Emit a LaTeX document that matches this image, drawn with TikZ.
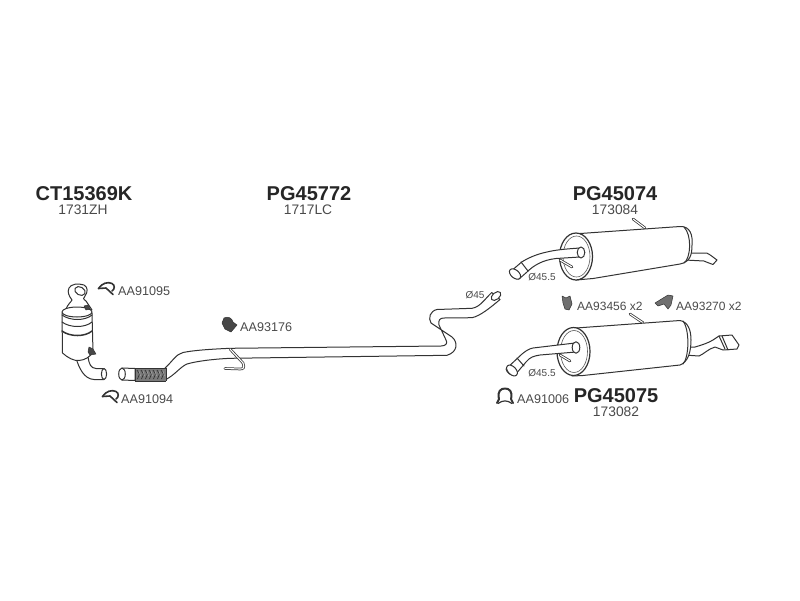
\documentclass[tikz,border=0pt]{standalone}
\usepackage{fontspec}
\setmainfont{Liberation Sans}
\definecolor{ink}{HTML}{333333}
\definecolor{txt}{HTML}{4A4A4A}
\tikzset{
 part/.style={draw=ink,line width=1pt,fill=white,line join=round,line cap=round},
 thin part/.style={draw=ink!80,line width=0.6pt,line cap=round},
 title/.style={font=\fontsize{20}{20}\selectfont\bfseries,text=black!85,inner sep=0pt},
 code/.style={font=\fontsize{13.8}{14}\selectfont,text=txt,inner sep=0pt},
 ref/.style={font=\fontsize{12.6}{13}\selectfont,text=txt,inner sep=0pt,anchor=west},
 dia/.style={font=\fontsize{10}{10}\selectfont,text=txt,inner sep=0pt},
 blob/.style={fill=ink!90,draw=ink,line width=0.5pt,line join=round},
 clampline/.style={draw=ink,line width=1.6pt,line cap=round,line join=round},
 tag/.style={draw=ink,line width=2.6pt,line cap=round},
 tagin/.style={draw=white,line width=1.1pt,line cap=round},
}
\begin{document}
\begin{tikzpicture}[x=1pt,y=-1pt]
\useasboundingbox (0,0) rectangle (800,600);
\fill[white] (0,0) rectangle (800,600);
% ---- texts
\node[title] (t1) at (84,193.5) {CT15369K};
\node[code] (c1) at (83,210) {1731ZH};
\node[title] (t2) at (309,193.5) {PG45772};
\node[code] (c2) at (308,210) {1717LC};
\node[title] (t3) at (615,193.5) {PG45074};
\node[code] (c3) at (615,210) {173084};
\node[title] (t4) at (616,396) {PG45075};
\node[code] (c4) at (616,412) {173082};
\node[ref] (r1) at (118,291) {AA91095};
\node[ref] (r2) at (121,399) {AA91094};
\node[ref] (r3) at (240,327) {AA93176};
\node[ref] (r4) at (517,399) {AA91006};
\node[ref,font=\fontsize{12}{13}\selectfont] (r5) at (577,306) {AA93456 x2};
\node[ref,font=\fontsize{12}{13}\selectfont] (r6) at (676,306) {AA93270 x2};
\node[dia] (d1) at (542,277) {Ø45.5};
\node[dia] (d2) at (542,372.7) {Ø45.5};
\node[dia] (d3) at (475,295) {Ø45};
% ---- catalyst
\draw[part] (76,358) .. controls (79,368) and (84,379) .. (94,379.5) -- (104,379.5) -- (104,368.5) -- (96,368.5) .. controls (91,368) and (89,365) .. (88,356) -- cycle;
\draw[part] (104,374) ellipse [x radius=2.6pt,y radius=5.5pt];
\draw[part] (66,309) .. controls (68,304) and (71,302) .. (72,300) .. controls (69,296) and (67,292) .. (69,288) .. controls (71,284) and (78,283) .. (84,285) .. controls (88,287) and (88,292) .. (85,296) .. controls (83,298) and (83,299) .. (86,301) -- (92,310) -- cycle;
\draw[part] (80,291) ellipse [x radius=5.5pt,y radius=4pt,rotate=-30];
\draw[part] (62,313) -- (62.5,353) .. controls (68,358) and (74,361) .. (79,360.5) .. controls (85,360) and (90,357) .. (93,352) -- (92,313) -- cycle;
\draw[part] (77,312) ellipse [x radius=15pt,y radius=5pt];
\draw[part,fill=none] (62,315) .. controls (70,321) and (85,321) .. (92,315);
\draw[part,fill=none] (62,322) .. controls (70,328) and (85,328) .. (92,322);
\draw[part,fill=none,line width=1.5pt] (62,331) .. controls (70,337) and (85,337) .. (92,331);
\draw[blob] (84,306) -- (88,305) -- (90,309) -- (86,310) -- cycle;
\draw[blob] (89,347) -- (93,349) -- (96,354) -- (90,355) -- (88,352) -- cycle;
% ---- intermediate pipe
\draw[part] (122,368) -- (135,368.5) -- (135,380.5) -- (122,380) -- cycle;
\draw[part] (122,374) ellipse [x radius=3.3pt,y radius=6pt];
\draw[part] (165,368) .. controls (172,362) and (176,354) .. (183,352.5) .. controls (195,350) and (215,349) .. (230,348.3)
 -- (441,346) .. controls (446,346) and (448,343) .. (446,340) -- (439,325) .. controls (438,320) and (440,318) .. (444,318)
 -- (472,317.7) .. controls (480,316) and (490,308) .. (500,299.5) -- (491.7,292.5) .. controls (484,300) and (480,307) .. (472,308.3)
 -- (437,309.5) .. controls (430,311) and (428,318) .. (431,323) -- (452,337) .. controls (458,342) and (458,352) .. (447,355.3)
 -- (230,358.3) .. controls (215,359) and (197,361) .. (187,364) .. controls (180,367) and (175,375) .. (165,380) -- cycle;
\draw[part] (496,296) ellipse [x radius=5.6pt,y radius=3.4pt,rotate=40];
\fill[ink!65] (135,368) rectangle (166,381);
\draw[ink,line width=1pt] (135,368) -- (166,368) (135,381) -- (166,381);
\draw[ink,line width=0.9pt] (135,368) -- (135,381) (166,368) -- (166,381);
\foreach \xx in {137,141,...,163}{
 \draw[ink,line width=0.7pt] (\xx,370) -- (\xx+2.5,374) -- (\xx+0.5,379);
 \draw[white!60!ink,line width=0.5pt] (\xx+2,371) -- (\xx+3.5,376);
}
\draw[tag] (230,349) -- (243,363) .. controls (245,368) and (243,369) .. (240,369) -- (225,368.5);
\draw[tagin] (230,349) -- (243,363) .. controls (245,368) and (243,369) .. (240,369) -- (225,368.5);
% ---- upper silencer
\draw[part] (685,253) -- (706.7,253) .. controls (711,255) and (714,258) .. (717,260) -- (713,264.5) .. controls (709,263) and (706,262) .. (704,261) -- (685,260) -- cycle;
\draw[tag] (633,219) -- (645,228);
\draw[tagin] (633,219) -- (645,228);
\draw[part] (573,234) -- (680,226.5) .. controls (690,226) and (693,235) .. (692,245) .. controls (692,255) and (690,262) .. (680,264) -- (593,278.5) -- (576,280) -- cycle;
\draw[part,fill=none] (684,227) .. controls (692,235) and (691,258) .. (684,263);
\draw[part,line width=1.2pt] (576,256.5) ellipse [x radius=16.5pt,y radius=23.5pt];
\draw[thin part] (576.5,256.5) ellipse [x radius=13.5pt,y radius=20.5pt];
\draw[tag] (560,260) -- (572,267);
\draw[tagin] (560,260) -- (572,267);
\draw[part] (580,248) .. controls (565,249) and (555,250) .. (547,252) .. controls (537,254) and (528,258) .. (521.7,262)
 -- (510,272) .. controls (511,276) and (515,279) .. (519,279) -- (527,272) .. controls (534,265) and (543,260) .. (556,258.5) -- (580,257) -- cycle;
\draw[part] (581,252.5) ellipse [x radius=3.8pt,y radius=5.5pt];
\draw[part,fill=none] (521,262) -- (528,271);
\draw[part] (515,274) ellipse [x radius=6.5pt,y radius=4pt,rotate=-40];
% ---- lower silencer
\draw[part] (684,347) -- (695,347) .. controls (702,345) and (708,343) .. (713,340) -- (719,336) -- (732,335) -- (739,345) -- (737,349) -- (723,350) -- (715,347) .. controls (708,349) and (704,354) .. (699,356) -- (684,355) -- cycle;
\draw[part,fill=none] (719,336) -- (725,349);
\draw[part,fill=none] (722,336) -- (728,350);
\draw[tag] (630,314) -- (643,322.7);
\draw[tagin] (630,314) -- (643,322.7);
\draw[part] (576,328) -- (680,320.5) .. controls (688,322) and (691,330) .. (691,340) .. controls (691,352) and (688,362) .. (680,365) -- (583,375.5) -- (572,376) -- cycle;
\draw[part,fill=none] (683,321) .. controls (690,330) and (689,358) .. (683,364);
\draw[part,line width=1.2pt] (573.5,351.5) ellipse [x radius=16.5pt,y radius=24pt];
\draw[thin part] (574,351.5) ellipse [x radius=13.5pt,y radius=21pt];
\draw[tag] (560,355) -- (570,361);
\draw[tagin] (560,355) -- (570,361);
\draw[part] (575,343) -- (533,348) .. controls (528,349) and (526,351) .. (522,354) -- (506,369) .. controls (507,373) and (511,376) .. (515,375) -- (526,362) .. controls (530,357) and (534,356) .. (540,355) -- (576,352) -- cycle;
\draw[part] (576,347.5) ellipse [x radius=3.8pt,y radius=5.8pt];
\draw[part,fill=none] (517,358) -- (524,366);
\draw[part] (512,370.5) ellipse [x radius=6.5pt,y radius=4pt,rotate=-45];
% ---- clamps
\draw[clampline] (98.5,288.5) .. controls (102,283) and (108,281.5) .. (112,283.5) .. controls (115,285) and (115,289) .. (112,291);
\draw[clampline] (98.5,288.5) -- (106,288) -- (113,294.5);
\draw[clampline] (102.5,396.5) .. controls (106,391) and (112,389.5) .. (116,391.5) .. controls (119,393) and (119,397) .. (116,399);
\draw[clampline] (102.5,396.5) -- (110,396) -- (117,402.5);
\draw[blob] (222,323) -- (224,318) .. controls (228,316) and (232,318) .. (233,322) -- (237,325) -- (231,332) -- (225,329) -- cycle;
\draw[clampline,line width=2pt] (497,403) -- (499,399) .. controls (497,391) and (501,388.5) .. (505,388.5) .. controls (509,388.5) and (513,391) .. (511,399) -- (513,403);
\draw[draw=ink,line width=1.2pt] (498,403.5) .. controls (503,400) and (507,400) .. (512,403.5);
\draw[blob,fill=ink!70] (562,296) -- (566,298) -- (570,296) -- (572,304) -- (569,310) -- (565,309) -- (563,303) -- cycle;
\draw[blob,fill=ink!70] (655,303) -- (668,295) -- (673,296) -- (671,305) -- (668,309) -- (664,304) -- (658,306) -- cycle;
\end{tikzpicture}
\end{document}
